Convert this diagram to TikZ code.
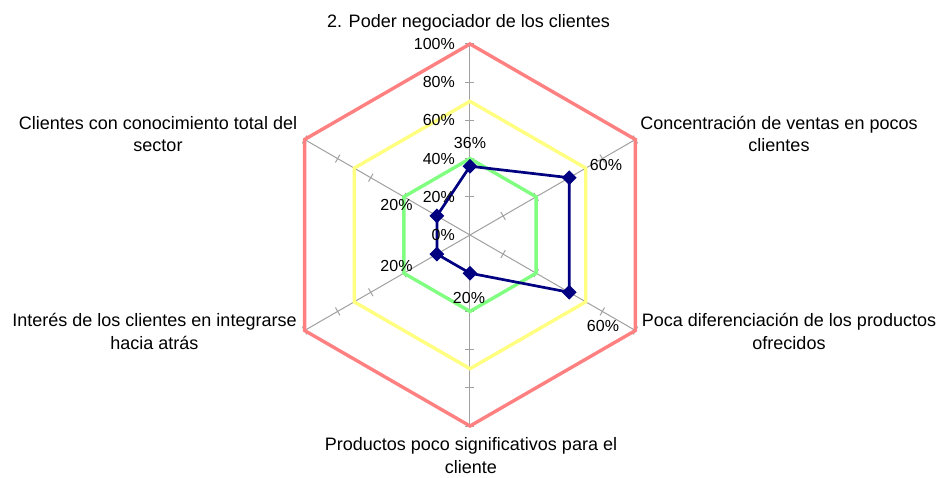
\documentclass[tikz,border=0pt]{standalone}
\usepackage{fontspec}
\setmainfont{Liberation Sans}
\usepackage{tikz}
\usetikzlibrary{shapes.geometric}

\definecolor{nivelrojo}{HTML}{FF8080}
\definecolor{nivelamarillo}{HTML}{FFFF80}
\definecolor{nivelverde}{HTML}{80FF80}
\definecolor{serieazul}{HTML}{000080}
\definecolor{ejegris}{HTML}{A0A0A0}

\tikzset{
    ejeline/.style={draw=ejegris, line width=1pt},
    marca/.style={draw=ejegris, line width=1pt},
    nivel/.style={line width=3.4pt, line join=miter},
    serie/.style={draw=serieazul, line width=2.7pt, line join=round},
    punto/.style={diamond, fill=serieazul, inner sep=0pt, minimum size=15pt},
    pct/.style={inner sep=0pt, font=\fontsize{16}{19}\selectfont},
    categoria/.style={inner sep=0pt, align=center, anchor=base, font=\fontsize{18}{22.7}\selectfont}
}

\def\R{191}

\begin{document}
\begin{tikzpicture}[x=1pt, y=1pt]
    \useasboundingbox (-470,-242) rectangle (470,235);

    % Draw the axes of the radar and their tick marks
    \foreach \a in {90,30,-30,-90,-150,150} {
        \draw[ejeline] (0,0) -- (\a:\R);
        \foreach \k in {1,...,5}
            \draw[marca, rotate=\a] ({\k*\R/5},-4.5) -- ({\k*\R/5},4.5);
    }

    % Draw the three reference levels
    \draw[nivel, draw=nivelverde] (90:{0.4*\R}) \foreach \a in {30,-30,-90,-150,150} {-- (\a:{0.4*\R})} -- cycle;
    \draw[nivel, draw=nivelamarillo] (90:{0.7*\R}) \foreach \a in {30,-30,-90,-150,150} {-- (\a:{0.7*\R})} -- cycle;
    \draw[nivel, draw=nivelrojo] (90:\R) \foreach \a in {30,-30,-90,-150,150} {-- (\a:\R)} -- cycle;

    % Data of the series
    \coordinate (d1) at (90:{0.36*\R});
    \coordinate (d2) at (30:{0.6*\R});
    \coordinate (d3) at (-30:{0.6*\R});
    \coordinate (d4) at (-90:{0.2*\R});
    \coordinate (d5) at (-150:{0.2*\R});
    \coordinate (d6) at (150:{0.2*\R});

    \draw[serie] (d1) -- (d2) -- (d3) -- (d4) -- (d5) -- (d6) -- cycle;
    \foreach \i in {1,...,6}
        \node[punto] (m\i) at (d\i) {};

    % Label the axis scale
    \foreach \k/\t in {0/0\%,1/20\%,2/40\%,3/60\%,4/80\%,5/100\%}
        \node[pct, anchor=east] (esc\k) at (-15,{\k*\R/5}) {\t};

    % Label the data points
    \node[pct] (v1) at (0,92.5) {36\%};
    \node[pct] (v2) at (136,70) {60\%};
    \node[pct] (v3) at (133,-91) {60\%};
    \node[pct] (v4) at (-1,-63) {20\%};
    \node[pct] (v5) at (-73.5,-31) {20\%};
    \node[pct] (v6) at (-73.5,30) {20\%};

    % Label the categories (base is the last line)
    \node[categoria] (c1) at (-1.5,207) {2. Poder negociador de los clientes};
    \node[categoria] (c2) at (309,83.3) {Concentración de ventas en pocos\\clientes};
    \node[categoria] (c3) at (319,-114.4) {Poca diferenciación de los productos\\ofrecidos};
    \node[categoria] (c4) at (1,-238.5) {Productos poco significativos para el\\cliente};
    \node[categoria] (c5) at (-315.5,-114.4) {Interés de los clientes en integrarse\\hacia atrás};
    \node[categoria] (c6) at (-312,83.3) {Clientes con conocimiento total del\\sector};
\end{tikzpicture}
\end{document}
